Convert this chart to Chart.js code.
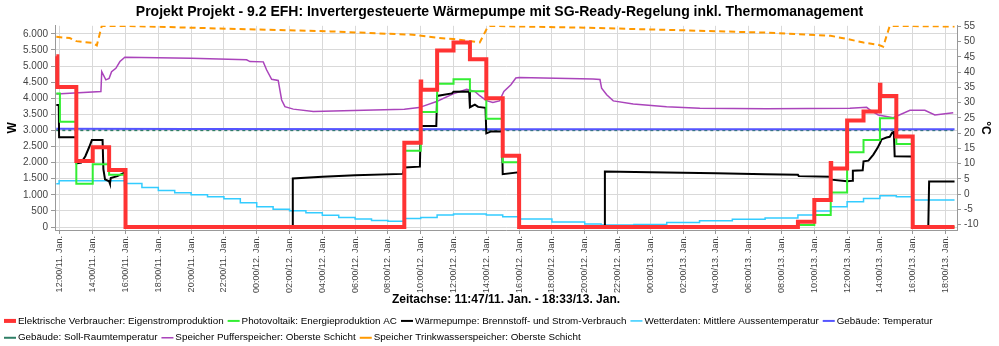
<!DOCTYPE html>
<html>
<head>
<meta charset="utf-8">
<script src="https://cdn.jsdelivr.net/npm/chart.js@4.4.0/dist/chart.umd.min.js"></script>
<style>
html, body { margin: 0; padding: 0; background: #fff; }
#wrap { width: 999px; height: 346px; }
</style>
</head>
<body>
<div id="wrap"><canvas id="chart" width="999" height="346"></canvas></div>
<script>
// time in hours from 00:00 on 11. Jan.
const xTickHours = [12, 14, 16, 18, 20, 22, 24, 26, 28, 30, 32, 34, 36, 38, 40, 42, 44, 46, 48, 50, 52, 54, 56, 58, 60, 62, 64, 66];
const xTickLabels = ["12:00/11. Jan.", "14:00/11. Jan.", "16:00/11. Jan.", "18:00/11. Jan.", "20:00/11. Jan.", "22:00/11. Jan.",
  "00:00/12. Jan.", "02:00/12. Jan.", "04:00/12. Jan.", "06:00/12. Jan.", "08:00/12. Jan.", "10:00/12. Jan.",
  "12:00/12. Jan.", "14:00/12. Jan.", "16:00/12. Jan.", "18:00/12. Jan.", "20:00/12. Jan.", "22:00/12. Jan.",
  "00:00/13. Jan.", "02:00/13. Jan.", "04:00/13. Jan.", "06:00/13. Jan.", "08:00/13. Jan.", "10:00/13. Jan.",
  "12:00/13. Jan.", "14:00/13. Jan.", "16:00/13. Jan.", "18:00/13. Jan."];
const wattTicks = [0, 500, 1000, 1500, 2000, 2500, 3000, 3500, 4000, 4500, 5000, 5500, 6000];
const celsiusTicks = [-10, -5, 0, 5, 10, 15, 20, 25, 30, 35, 40, 45, 50, 55];

// Elektrische Verbraucher (W, steps)
const redTime = [11.78, 11.84, 13.0, 14.0, 15.0, 16.0, 33.0, 34.0, 34.03, 35.0, 36.0, 37.0, 38.0, 39.0, 40.0, 57.0, 58.0, 59.0, 59.03, 60.0, 61.0, 62.0, 62.03, 63.0, 64.0, 66.55];
const redPower = [5300, 4350, 2050, 2480, 1770, 0, 2620, 4520, 4260, 5480, 5730, 5210, 4000, 2210, 0, 165, 840, 1990, 1820, 3310, 3590, 4420, 4070, 2810, 0, 0];

// Photovoltaik (W, steps)
const greenTime = [11.78, 12.0, 13.0, 14.0, 15.0, 16.0, 33.0, 34.0, 35.0, 36.0, 37.0, 38.0, 39.0, 40.0, 57.0, 58.0, 59.0, 60.0, 61.0, 62.0, 63.0, 64.0, 66.55];
const greenPower = [4150, 3270, 1340, 1950, 1620, 0, 2370, 3570, 4450, 4590, 4220, 3360, 2010, 0, 60, 370, 1070, 2320, 2700, 3380, 2580, 0, 0];

// Waermepumpe (W)
const blackTime = [11.78, 11.93, 11.95, 13.0, 13.02, 13.3, 13.55, 13.8, 13.95, 14.6, 14.65, 14.75, 15.0, 15.05, 15.1, 15.5, 15.95, 16.0,
  26.19, 26.2, 28, 30, 32.9, 33.0, 33.95, 34.0, 34.95, 35.0, 35.9, 36.0, 36.95, 37.0, 37.3, 37.5, 37.95, 38.0, 38.3, 38.95, 39.0, 39.95, 40.0,
  45.2, 45.23, 48, 52, 55, 57, 57.05, 59, 59.05, 60.0, 60.3, 60.35, 60.95, 61.0, 61.3, 61.6, 61.85, 62.0, 62.1, 62.4, 62.6, 62.75, 62.85, 62.9, 63.95, 64.0,
  64.95, 65.0, 66.55];
const blackPower = [3790, 3790, 2790, 2790, 1980, 2000, 2200, 2500, 2700, 2700, 1800, 1480, 1420, 1350, 1520, 1580, 1690, 0,
  0, 1510, 1560, 1610, 1650, 1850, 1875, 3140, 3140, 4070, 4150, 4200, 4210, 3720, 3800, 3730, 3700, 2910, 2970, 2970, 1640, 1700, 0,
  0, 1720, 1700, 1670, 1640, 1620, 1580, 1560, 1470, 1420, 1440, 1750, 1760, 2040, 2060, 2250, 2450, 2600, 2720, 2780, 2800, 2930, 2950, 2200, 2190, 0,
  0, 1410, 1410];

// Wetterdaten Aussentemperatur (degC, hourly steps)
const cyanTime = [11.78, 11.95, 16.0, 17.0, 18.0, 19.0, 20.0, 21.0, 22.0, 23.0, 24.0, 25.0, 26.0, 27.0, 28.0, 29.0, 30.0, 31.0, 32.0, 33.0, 34.0, 35.0, 36.0, 38.0, 39.0, 40.0,
  42.0, 44.0, 45.0, 47.0, 49.0, 51.0, 53.0, 55.0, 57.0, 58.0, 59.0, 60.0, 61.0, 62.0, 63.0, 64.0, 66.55];
const cyanTemp = [3.4, 4.4, 3.5, 2.2, 1.2, 0.5, -0.15, -0.8, -1.5, -2.8, -4.1, -4.9, -5.4, -6.1, -6.9, -7.6, -8.1, -8.6, -8.9, -8.0, -7.6, -6.8, -6.5, -6.8, -7.4, -8.1,
  -9.1, -9.8, -10.1, -9.9, -9.3, -8.7, -8.2, -7.8, -6.8, -5.5, -4.1, -2.5, -1.4, -0.5, -0.8, -1.9, -1.9];

// Gebaeude Temperatur / Soll (degC)
const blueTime = [11.78, 20, 40, 66.55];
const blueTemp = [21.5, 21.4, 21.3, 21.3];
const sollTime = [11.78, 66.55];
const sollTemp = [21.0, 21.0];

// Pufferspeicher oberste Schicht (degC)
const purpleTime = [11.78, 14.5, 14.55, 14.8, 15.0, 15.15, 15.41, 15.66, 15.96, 20, 23.38, 23.59, 24.4, 24.6, 24.91, 25.31, 25.52, 25.72, 26.23, 27.45, 28.67,
  33.0, 33.9, 34.97, 35.98, 36.8, 37.3, 37.6, 38.0, 38.4, 38.8, 39.07, 39.5, 39.8, 40.0, 44.5, 44.93, 45.03, 45.34, 45.74, 46.96, 48.99, 51.02, 55.09,
  60.17, 61.19, 61.39, 61.9, 62.81, 63.83, 64.74, 65.35, 66.47];
const purpleTemp = [32.9, 33.7, 40.2, 37.5, 38.0, 40.2, 41.3, 43.5, 44.95, 44.6, 44.1, 43.5, 43.4, 40.8, 37.7, 37.3, 30.9, 28.7, 27.9, 27.1, 27.3,
  27.9, 28.4, 30.4, 32.9, 34.4, 33.7, 32.3, 30.7, 30.05, 30.6, 33.7, 35.9, 38.1, 38.3, 37.8, 37.6, 34.8, 32.6, 30.6, 29.6, 28.7, 28.2, 28.0,
  28.2, 28.5, 27.65, 26.0, 25.1, 27.5, 27.5, 26.0, 26.7];

// Trinkwasserspeicher oberste Schicht (degC)
const orangeTime = [11.78, 12.6, 13.0, 14.0, 14.25, 14.55, 16, 20, 24, 28.5, 33.5, 35, 36, 37.6, 38.1, 38.2, 44, 49, 55, 59, 60, 61, 61.9, 62.2, 62.6, 66.55];
const orangeTemp = [51.6, 51.2, 50.2, 49.6, 48.8, 55.2, 55.2, 54.6, 54.0, 53.4, 52.3, 51.3, 50.9, 49.8, 55.0, 55.2, 54.6, 53.9, 53.0, 51.95, 50.9, 49.75, 49.0, 48.4, 55.2, 55.0];

function points(xs, ys) {
  return xs.map((x, i) => ({ x: x, y: ys[i] }));
}

function fmtWatt(v) {
  if (v >= 1000) return Math.floor(v / 1000) + "." + String(v % 1000).padStart(3, "0");
  return String(v);
}

Chart.defaults.font.family = "'Liberation Sans', Arial, sans-serif";
Chart.defaults.color = "#444";

const legendHeight = {
  id: "legendHeight",
  beforeInit(chart) {
    const fit = chart.legend.fit;
    chart.legend.fit = function () {
      fit.call(this);
      this.height = 37;
    };
  }
};

const ctx = document.getElementById("chart").getContext("2d");

new Chart(ctx, {
  type: "line",
  data: {
    datasets: [
      { label: "Elektrische Verbraucher: Eigenstromproduktion", data: points(redTime, redPower), yAxisID: "y", stepped: true, borderColor: "#ff3333", borderWidth: 4 },
      { label: "Photovoltaik: Energieproduktion AC", data: points(greenTime, greenPower), yAxisID: "y", stepped: true, borderColor: "#33ee33", borderWidth: 2 },
      { label: "Wärmepumpe: Brennstoff- und Strom-Verbrauch", data: points(blackTime, blackPower), yAxisID: "y", borderColor: "#000000", borderWidth: 2 },
      { label: "Wetterdaten: Mittlere Aussentemperatur", data: points(cyanTime, cyanTemp), yAxisID: "y1", stepped: true, borderColor: "#33ccff", borderWidth: 1.5 },
      { label: "Gebäude: Temperatur", data: points(blueTime, blueTemp), yAxisID: "y1", borderColor: "#5555ff", borderWidth: 2 },
      { label: "Gebäude: Soll-Raumtemperatur", data: points(sollTime, sollTemp), yAxisID: "y1", borderColor: "#2f7f66", borderWidth: 2, borderDash: [3, 3] },
      { label: "Speicher Pufferspeicher: Oberste Schicht", data: points(purpleTime, purpleTemp), yAxisID: "y1", borderColor: "#aa44bb", borderWidth: 1.5 },
      { label: "Speicher Trinkwasserspeicher: Oberste Schicht", data: points(orangeTime, orangeTemp), yAxisID: "y1", borderColor: "#ff9900", borderWidth: 2, borderDash: [6, 4] }
    ]
  },
  options: {
    responsive: false,
    animation: false,
    layout: { padding: 0 },
    elements: { point: { radius: 0 }, line: { tension: 0, fill: false } },
    plugins: {
      title: {
        display: true,
        text: "Projekt Projekt - 9.2 EFH: Invertergesteuerte Wärmepumpe mit SG-Ready-Regelung inkl. Thermomanagement",
        color: "#000",
        font: { size: 14, weight: "bold" },
        padding: { top: 4, bottom: 5 }
      },
      legend: {
        position: "bottom",
        align: "start",
        labels: {
          usePointStyle: true,
          pointStyle: "line",
          boxWidth: 6,
          boxHeight: 8.5,
          padding: 7,
          color: "#000",
          font: { size: 9.85 }
        }
      },
      tooltip: { enabled: false }
    },
    scales: {
      x: {
        type: "linear",
        min: 11.7,
        max: 66.7,
        afterBuildTicks: s => { s.ticks = xTickHours.map(v => ({ value: v })); },
        afterFit: s => { s.height = 79; },
        ticks: {
          autoSkip: false,
          minRotation: 90,
          maxRotation: 90,
          padding: 2,
          font: { size: 9 },
          color: "#444",
          callback: v => xTickLabels[xTickHours.indexOf(v)]
        },
        grid: { color: "#d9d9d9", tickColor: "#999", tickLength: 4 },
        border: { color: "#999" },
        title: {
          display: true,
          text: "Zeitachse: 11:47/11. Jan. - 18:33/13. Jan.",
          color: "#000",
          font: { size: 12, weight: "bold" },
          padding: { top: 0, bottom: 2 }
        }
      },
      y: {
        type: "linear",
        position: "left",
        min: -93,
        max: 6249,
        afterBuildTicks: s => { s.ticks = wattTicks.map(v => ({ value: v })); },
        afterFit: s => { s.width = 55; },
        ticks: { font: { size: 10 }, color: "#444", padding: 3, callback: v => fmtWatt(v) },
        grid: { color: "#d9d9d9", tickColor: "#999", tickLength: 4 },
        border: { color: "#999" },
        title: { display: true, text: "W", color: "#000", font: { size: 12, weight: "bold" }, padding: { top: 5, bottom: 0 } }
      },
      y1: {
        type: "linear",
        position: "right",
        min: -11.74,
        max: 55.23,
        afterBuildTicks: s => { s.ticks = celsiusTicks.map(v => ({ value: v })); },
        afterFit: s => { s.width = 42; },
        ticks: { font: { size: 10 }, color: "#444", padding: 3 },
        grid: { drawOnChartArea: false, tickColor: "#999", tickLength: 4 },
        border: { color: "#999" },
        title: { display: true, text: "°C", color: "#000", font: { size: 12, weight: "bold" }, padding: { top: 6, bottom: 0 } }
      }
    }
  },
  plugins: [legendHeight]
});
</script>
</body>
</html>
